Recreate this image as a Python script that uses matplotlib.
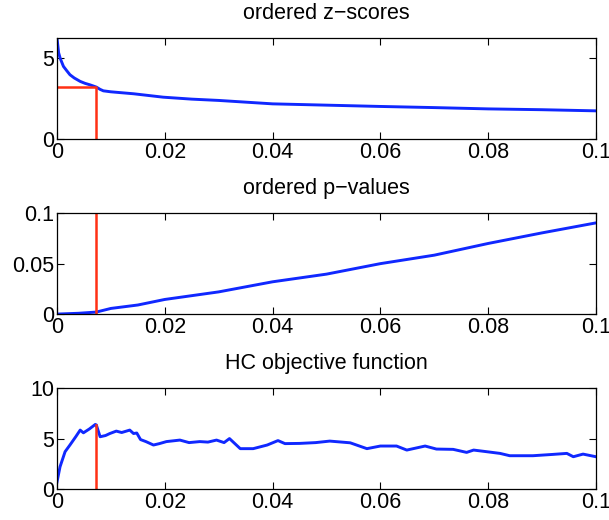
"""Higher-criticism threshold: ordered z-scores, p-values and HC objective."""

import matplotlib

matplotlib.use("Agg")
import matplotlib.pyplot as plt

# fraction of tests (i/N) and values
z_frac = [0.0, 0.0003, 0.0006, 0.0012, 0.0018, 0.0024, 0.0032, 0.0043, 0.0052,
          0.0061, 0.0068, 0.0073, 0.0080, 0.0086, 0.010, 0.0142, 0.0197, 0.025,
          0.030, 0.040, 0.050, 0.060, 0.070, 0.080, 0.090, 0.100]
z_vals = [6.2, 5.3, 4.95, 4.46, 4.2, 3.95, 3.75, 3.54, 3.42,
          3.33, 3.25, 3.19, 3.05, 2.96, 2.9, 2.78, 2.57, 2.45,
          2.37, 2.16, 2.08, 2.0, 1.93, 1.85, 1.8, 1.73]

p_frac = [0.0, 0.004, 0.0073, 0.010, 0.015, 0.020, 0.030, 0.040, 0.050,
          0.060, 0.070, 0.080, 0.090, 0.100]
p_vals = [0.0, 0.0008, 0.002, 0.0056, 0.009, 0.0145, 0.022, 0.032, 0.0396,
          0.050, 0.0584, 0.070, 0.0805, 0.0904]

hc_frac = [0.0, 0.00056, 0.0015, 0.0024, 0.0035, 0.0043, 0.0049, 0.006, 0.0071,
           0.0073, 0.0080, 0.0090, 0.0098, 0.011, 0.012, 0.0135, 0.0142, 0.0148,
           0.0155, 0.0165, 0.0179, 0.019, 0.0203, 0.0228, 0.0245, 0.0265, 0.028,
           0.0296, 0.031, 0.032, 0.034, 0.0364, 0.039, 0.041, 0.0423, 0.045,
           0.048, 0.0506, 0.0544, 0.0575, 0.06, 0.063, 0.0649, 0.0683, 0.0704,
           0.0735, 0.076, 0.0773, 0.0797, 0.0822, 0.084, 0.0883, 0.092, 0.0946,
           0.0958, 0.0976, 0.100]
hc_vals = [0.7, 2.2, 3.7, 4.36, 5.2, 5.84, 5.57, 5.95, 6.4,
           6.35, 5.18, 5.3, 5.5, 5.74, 5.6, 5.84, 5.5, 5.55,
           4.9, 4.7, 4.36, 4.5, 4.7, 4.85, 4.6, 4.7, 4.65,
           4.85, 4.6, 5.0, 4.0, 4.0, 4.36, 4.8, 4.5, 4.52,
           4.6, 4.75, 4.58, 4.0, 4.26, 4.26, 3.86, 4.26, 3.96,
           3.93, 3.63, 3.86, 3.7, 3.53, 3.3, 3.3, 3.43, 3.53,
           3.2, 3.46, 3.2]

hc_pick = 0.0073
z_at_pick = 3.19
p_at_pick = 0.002
hc_at_pick = 6.35

plt.rcParams["font.family"] = ["Liberation Sans", "DejaVu Sans"]

BLUE = "#1028ff"
RED = "#ff3014"

fig = plt.figure(figsize=(6.09, 5.2), dpi=100)
ax1 = fig.add_axes([0.0936, 0.7327, 0.885, 0.194])
ax2 = fig.add_axes([0.0936, 0.396, 0.885, 0.194])
ax3 = fig.add_axes([0.0936, 0.0596, 0.885, 0.194])

ax1.plot(z_frac, z_vals, color=BLUE, lw=2.1)
ax1.plot([0, hc_pick, hc_pick], [z_at_pick, z_at_pick, 0], color=RED, lw=1.8)
ax1.set_ylim(0, 6.2)
ax1.set_yticks([0, 5])
ax1.set_title("ordered z\u2212scores", fontsize=15.5, pad=14)

ax2.plot(p_frac, p_vals, color=BLUE, lw=2.1)
ax2.plot([hc_pick, hc_pick], [0, 0.1], color=RED, lw=1.8)
ax2.set_ylim(0, 0.1)
ax2.set_yticks([0, 0.05, 0.1])
ax2.set_yticklabels(["0", "0.05", "0.1"])
ax2.set_title("ordered p\u2212values", fontsize=15.5, pad=14)

ax3.plot(hc_frac, hc_vals, color=BLUE, lw=2.1)
ax3.plot([hc_pick, hc_pick], [0, hc_at_pick], color=RED, lw=1.8)
ax3.set_ylim(0, 10)
ax3.set_yticks([0, 5, 10])
ax3.set_title("HC objective function", fontsize=15.5, pad=14)

for ax in (ax1, ax2, ax3):
    ax.set_xlim(0, 0.1)
    ax.set_xticks([0, 0.02, 0.04, 0.06, 0.08, 0.1])
    ax.set_xticklabels(["0", "0.02", "0.04", "0.06", "0.08", "0.1"])
    ax.tick_params(direction="in", top=True, right=True, length=5, width=0.8,
                   labelsize=15.5, pad=2)
    for s in ax.spines.values():
        s.set_linewidth(0.9)

fig.savefig("out.png", dpi=100)
